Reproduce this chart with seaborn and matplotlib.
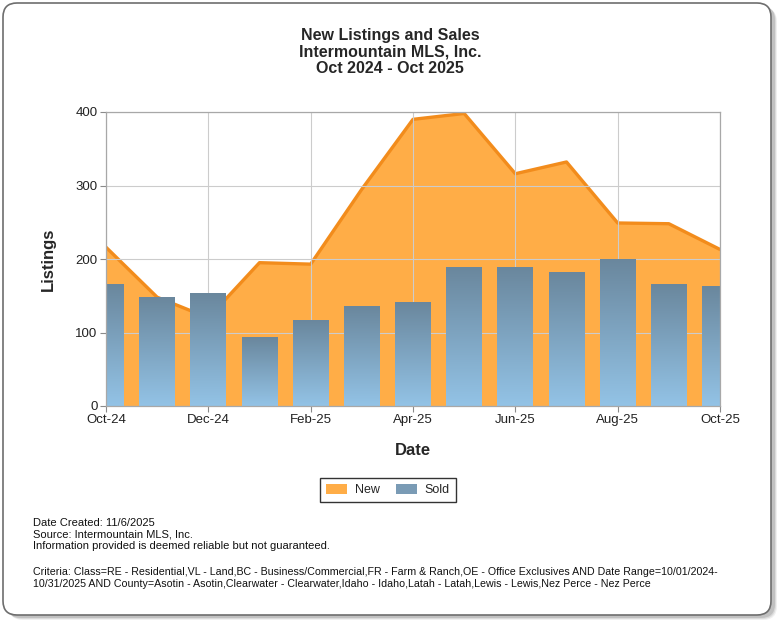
import numpy as np
import pandas as pd
import seaborn as sns
import matplotlib.pyplot as plt
from matplotlib.patches import Patch, FancyBboxPatch
from matplotlib.colors import LinearSegmentedColormap

months = ["Oct-24", "Nov-24", "Dec-24", "Jan-25", "Feb-25", "Mar-25", "Apr-25",
          "May-25", "Jun-25", "Jul-25", "Aug-25", "Sep-25", "Oct-25"]
new_listings = [216, 148, 120, 195, 193, 295, 390, 398, 316, 332, 249, 248, 213]
sold = [165, 147, 153, 93, 116, 136, 141, 189, 189, 182, 199, 165, 162]
tick_labels = ["Oct-24", "Dec-24", "Feb-25", "Apr-25", "Jun-25", "Aug-25", "Oct-25"]

sns.set_theme(style="white")
plt.rcParams['font.family'] = ['Liberation Sans', 'DejaVu Sans']

df = pd.DataFrame({"month": months, "new": new_listings, "sold": sold})
df["pos"] = np.arange(len(df))

fig = plt.figure(figsize=(7.8, 6.25), dpi=100)

# rounded frame with a soft shadow
for i, a in enumerate([0.10, 0.16, 0.24]):
    off = 5 - i
    fig.patches.append(FancyBboxPatch((4 + off, 10 - off), 768, 612,
                                      boxstyle="round,pad=0,rounding_size=14",
                                      transform=None, fc="#707070", ec="none", alpha=a, zorder=0))
fig.patches.append(FancyBboxPatch((3, 10), 768, 612, boxstyle="round,pad=0,rounding_size=14",
                                  transform=None, fc="white", ec="#6e6e6e", lw=1.2, zorder=1))

ax = fig.add_axes([106 / 780, 1 - 406 / 625, 614 / 780, 294 / 625])
ax.set_zorder(2)
ax.patch.set_alpha(0)

# New listings as an area
ax.fill_between(df["pos"], df["new"], color="#FFAD47", lw=0, zorder=1)
sns.lineplot(x=df["pos"], y=df["new"], ax=ax, color="#F28C1C", lw=2.4, zorder=1.2)

# Sold as gradient bars
sns.barplot(data=df, x="month", y="sold", ax=ax, width=0.7, color="#7a9bb5", zorder=2)
grad = np.linspace(0, 1, 256).reshape(-1, 1)
cmap = LinearSegmentedColormap.from_list("bar", ["#93c3e6", "#6a879d"])
for p in ax.patches:
    x0, w, h = p.get_x(), p.get_width(), p.get_height()
    p.set_visible(False)
    ax.imshow(grad, extent=[x0, x0 + w, 0, h], origin="lower", aspect="auto",
              cmap=cmap, zorder=2)

ax.set_xlim(0, 12)
ax.set_ylim(0, 400)
ax.set_xticks(np.arange(0, 13, 2))
ax.set_xticklabels(tick_labels, fontsize=9.5, color="#222222")
ax.set_yticks([0, 100, 200, 300, 400])
ax.set_yticklabels(["0", "100", "200", "300", "400"], fontsize=9.5, color="#222222")
ax.tick_params(axis="both", length=4, width=0.8, color="#8a8a8a", pad=2, bottom=True, left=True)
ax.set_axisbelow("line")
ax.grid(True, color="#cccccc", lw=0.8)
for s in ax.spines.values():
    s.set_color("#a8a8a8")
    s.set_linewidth(0.9)
ax.set_xlabel("Date", fontsize=12, fontweight="bold", labelpad=12)
ax.set_ylabel("Listings", fontsize=12, fontweight="bold", labelpad=14)

fig.text(0.5, 1 - 52 / 625, "New Listings and Sales\nIntermountain MLS, Inc.\nOct 2024 - Oct 2025",
         ha="center", va="center", fontsize=11.5, fontweight="bold", linespacing=1.12)

handles = [Patch(fc="#FFAD47", ec="none", label="New"), Patch(fc="#7a9bb5", ec="none", label="Sold")]
leg = fig.legend(handles=handles, loc="center", bbox_to_anchor=(388 / 780, 1 - 490 / 625), ncol=2,
                 frameon=True, fancybox=False, fontsize=9, handlelength=1.7, handleheight=0.8,
                 handletextpad=0.6, columnspacing=1.3, borderpad=0.5)
leg.get_frame().set_edgecolor("black")
leg.get_frame().set_linewidth(1)

fig.text(33 / 780, 1 - 518 / 625,
         "Date Created: 11/6/2025\nSource: Intermountain MLS, Inc.\n"
         "Information provided is deemed reliable but not guaranteed.",
         ha="left", va="top", fontsize=8, linespacing=1.2, color="#111111")
fig.text(33 / 780, 1 - 567 / 625,
         "Criteria: Class=RE - Residential,VL - Land,BC - Business/Commercial,FR - Farm & Ranch,OE - Office Exclusives AND Date Range=10/01/2024-\n"
         "10/31/2025 AND County=Asotin - Asotin,Clearwater - Clearwater,Idaho - Idaho,Latah - Latah,Lewis - Lewis,Nez Perce - Nez Perce",
         ha="left", va="top", fontsize=7.7, linespacing=1.25, color="#111111")

fig.savefig("out.png", dpi=100)
